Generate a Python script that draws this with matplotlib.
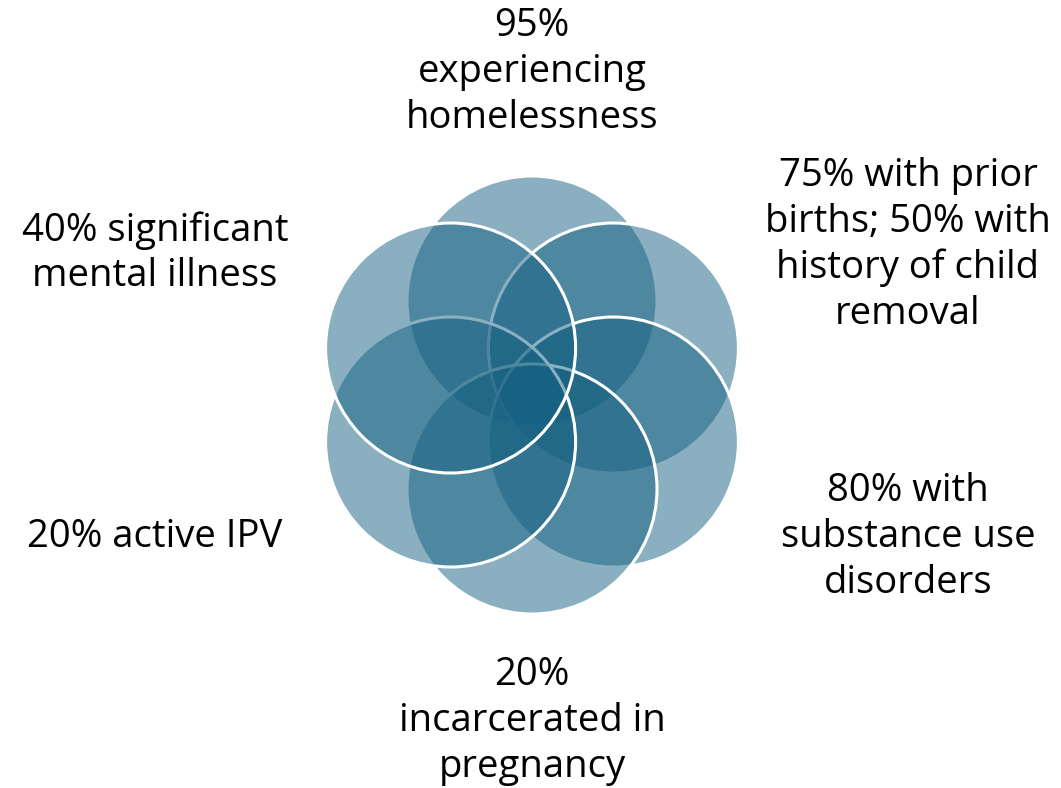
import numpy as np
import matplotlib.pyplot as plt
from matplotlib.patches import Circle

plt.rcParams["font.family"] = ["Open Sans", "DejaVu Sans"]

labels = [
    "95%\nexperiencing\nhomelessness",
    "75% with prior\nbirths; 50% with\nhistory of child\nremoval",
    "80% with\nsubstance use\ndisorders",
    "20%\nincarcerated in\npregnancy",
    "20% active IPV",
    "40% significant\nmental illness",
]
angles = [90, 30, -30, -90, -150, 150]  # top first, then clockwise

# layout (pixel space)
cx, cy = 532, 395
ring = 94
rad = 125
label_xy = [(532, 72), (908, 245), (908, 537), (532, 721), (155, 537), (155, 253)]

fig = plt.figure(figsize=(10.61, 7.88), dpi=100)
ax = fig.add_axes([0, 0, 1, 1])
ax.set_xlim(0, 1061)
ax.set_ylim(788, 0)
ax.set_aspect("equal")
ax.axis("off")

for a in angles:
    x = cx + ring * np.cos(np.radians(a))
    y = cy - ring * np.sin(np.radians(a))
    ax.add_patch(Circle((x, y), rad, facecolor=(21/255, 96/255, 130/255, 0.5),
                        edgecolor="white", linewidth=2.2))

for txt, (x, y) in zip(labels, label_xy):
    ax.text(x, y, txt, ha="center", va="center", fontsize=27.5,
            linespacing=1.26, color="black")

plt.savefig("out.png", dpi=100)
